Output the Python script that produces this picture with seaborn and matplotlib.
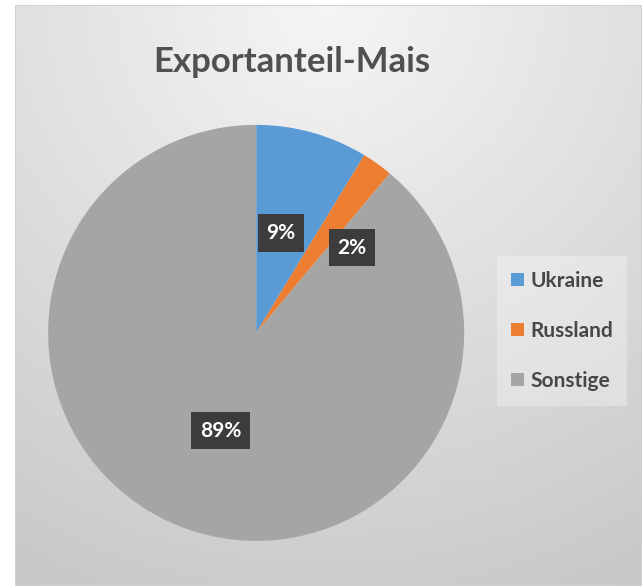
import numpy as np
import seaborn as sns
import matplotlib.pyplot as plt
from matplotlib.patches import Patch, Rectangle

# Daten
laender = ['Ukraine', 'Russland', 'Sonstige']
anteile = [8.7, 2.4, 88.9]
farben = ['#5B9BD5', '#ED7D31', '#A5A5A5']
titel = 'Exportanteil-Mais'

sns.set_theme(style='white')
plt.rcParams['font.family'] = ['Lato', 'DejaVu Sans']

fig = plt.figure(figsize=(6.42, 5.86), dpi=100)
fig.patch.set_facecolor('white')

# Hintergrund mit radialem Verlauf (Excel-Stil)
bg = fig.add_axes([15 / 642, 0, 1 - 15 / 642, 1 - 5 / 586])
yy, xx = np.mgrid[0:1:300j, 0:1:300j]
dist = np.sqrt(((xx - 0.5) * 1.0) ** 2 + (yy * 0.95) ** 2)
shade = 0.96 - 0.195 * np.clip(dist, 0, 1.15) / 1.15
bg.imshow(shade, cmap='gray', vmin=0, vmax=1, extent=[0, 1, 1, 0], aspect='auto')
bg.set_xlim(0, 1)
bg.set_ylim(1, 0)
bg.axis('off')
bg.add_patch(Rectangle((0, 0), 1, 1, fill=False, edgecolor='#d0d0d0', lw=1.5))

# Kreisdiagramm
ax = fig.add_axes([0.075, 0.077, 0.648, 0.710])
ax.set_facecolor('none')
wedges, texts, autotexts = ax.pie(
    anteile, colors=farben, startangle=90, counterclock=False,
    autopct=lambda p: f'{p:.0f}%', pctdistance=0.5,
    wedgeprops=dict(linewidth=0),
    textprops=dict(color='white', fontsize=15, fontweight='bold'))
for t in autotexts:
    t.set_bbox(dict(boxstyle='square,pad=0.42', facecolor='#3c3c3c', edgecolor='none'))
# 2%-Beschriftung nach aussen versetzt wie im Original
autotexts[1].set_position((0.46, 0.41))
autotexts[0].set_position((0.12, 0.48))
ax.set_xlim(-1, 1)
ax.set_ylim(-1, 1)
ax.set_aspect('equal')

fig.text(292 / 642, 1 - 62 / 586, titel, ha='center', va='center',
         fontsize=25, color='#505050', fontweight='bold')

handles = [Patch(facecolor=c, edgecolor='none') for c in farben]
leg = fig.legend(handles, laender, loc='center', bbox_to_anchor=(562 / 642, 1 - 331 / 586),
                 frameon=True, framealpha=0.3, fontsize=15, labelspacing=1.45,
                 handlelength=0.6, handleheight=0.6, handletextpad=0.3, borderpad=0.7,
                 fancybox=False)
leg.get_frame().set_facecolor('white')
leg.get_frame().set_edgecolor('none')
for t in leg.get_texts():
    t.set_color('#474747')
    t.set_fontweight('bold')

fig.savefig('out.png', dpi=100)
